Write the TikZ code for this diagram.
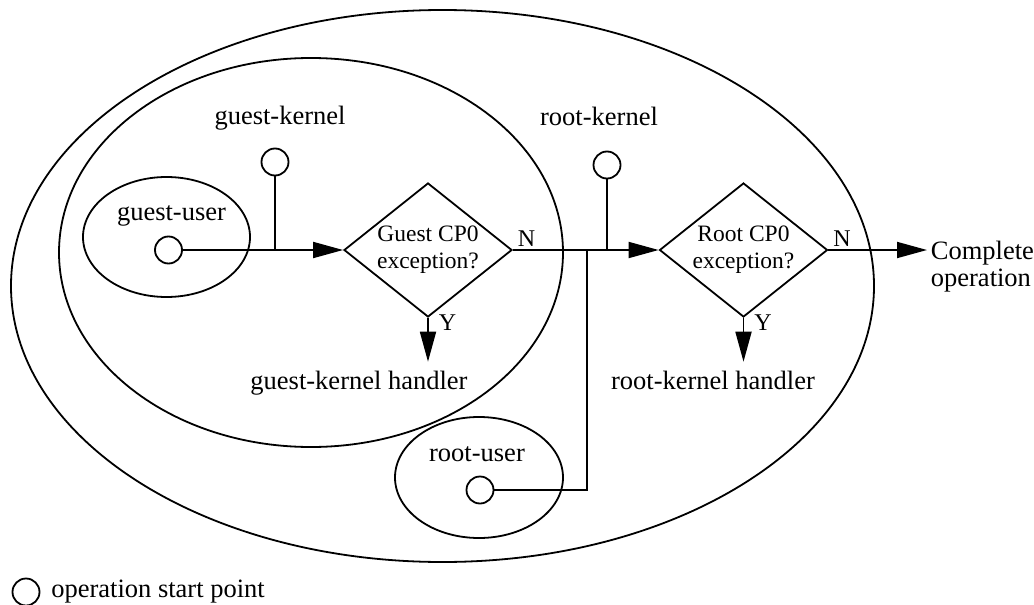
\documentclass[tikz,border=0pt]{standalone}
\usepackage{fontspec}
\setmainfont{Liberation Serif}
\usetikzlibrary{shapes.geometric,arrows.meta,positioning}

\begin{document}
\begin{tikzpicture}[x=0.5pt, y=-0.5pt, % one unit = one pixel of the layout
    line width=0.9pt,
    >={Triangle[length=15pt,width=8pt]},
    zone/.style={draw, ellipse, inner sep=0pt},
    start/.style={draw, circle, inner sep=0pt, minimum size=13.5pt},
    decision/.style={draw, diamond, inner sep=0pt, shape aspect=1.25,
        minimum width=84pt, minimum height=67pt, align=center,
        font=\fontsize{11.75}{13.5}\selectfont},
    lbl/.style={inner sep=0pt, font=\fontsize{13.25}{13.5}\selectfont},
    yn/.style={inner sep=0pt, anchor=base west, font=\fontsize{12}{14}\selectfont}]

    \useasboundingbox (0,0) rectangle (1034,605);

    % Zones
    \node[zone, minimum width=431.5pt, minimum height=276pt] (outer) at (442.5,286) {};
    \node[zone, minimum width=252pt, minimum height=194.5pt] (guest) at (311,252.5) {};
    \node[zone, minimum width=83.5pt, minimum height=60pt] (gusrzone) at (166.5,237) {};
    \node[zone, minimum width=84pt, minimum height=60.5pt] (rusrzone) at (479,477.5) {};

    % zone labels
    \node[lbl, anchor=base] (gklbl) at (280,124) {guest-kernel};
    \node[lbl, anchor=base] (rklbl) at (599,125) {root-kernel};
    \node[lbl, anchor=base] (gulbl) at (171.5,220) {guest-user};
    \node[lbl, anchor=base] (rulbl) at (477,461) {root-user};

    % start points
    \node[start] (gu) at (168.5,250) {};
    \node[start] (gk) at (275,162) {};
    \node[start] (rk) at (607,165) {};
    \node[start] (ru) at (480,490) {};

    % decisions
    \node[decision] (gq) at (428,250) {Guest CP0\\exception?};
    \node[decision] (rq) at (743.5,250) {Root CP0\\exception?};

    % handlers
    \node[lbl, anchor=base] (gkh) at (359,389) {guest-kernel handler};
    \node[lbl, anchor=base] (rkh) at (713,389) {root-kernel handler};
    \node[lbl, anchor=west, align=left, inner sep=1.5pt,
        font=\fontsize{13.25}{13.5}\selectfont] (done) at (927,267) {Complete\\operation};

    % junctions
    \coordinate (gkj) at (gk |- gq.west);
    \coordinate (rkj) at (rk |- rq.west);
    \coordinate (ruj) at (587,250);

    % flow
    \draw (gu) -- (gkj);
    \draw (gk) -- (gkj);
    \draw[->] (gkj) -- (gq.west);
    \draw (gq.east) -- (rkj);
    \draw (ru) -- (ru -| ruj) -- (ruj);
    \draw (rk) -- (rkj);
    \draw[->] (rkj) -- (rq.west);
    \draw[->] (rq.east) -- (rq.east -| done.west);
    \draw[->, shorten >=4pt] (gq.south) -- (gkh.north -| gq.south);
    \draw[->, shorten >=4pt] (rq.south) -- (rkh.north -| rq.south);

    % Y / N
    \node[yn] (gqn) at ([xshift=2pt, yshift=2pt]gq.east) {N};
    \node[yn] (rqn) at ([xshift=2pt, yshift=2pt]rq.east) {N};
    \node[yn] (gqy) at ([xshift=5pt, yshift=-6.5pt]gq.south) {Y};
    \node[yn] (rqy) at ([xshift=5pt, yshift=-6.5pt]rq.south) {Y};

    % legend
    \node[start] (lg) at (26,592) {};
    \node[lbl, right=5pt of lg] (lgtxt) {operation start point};

\end{tikzpicture}
\end{document}
